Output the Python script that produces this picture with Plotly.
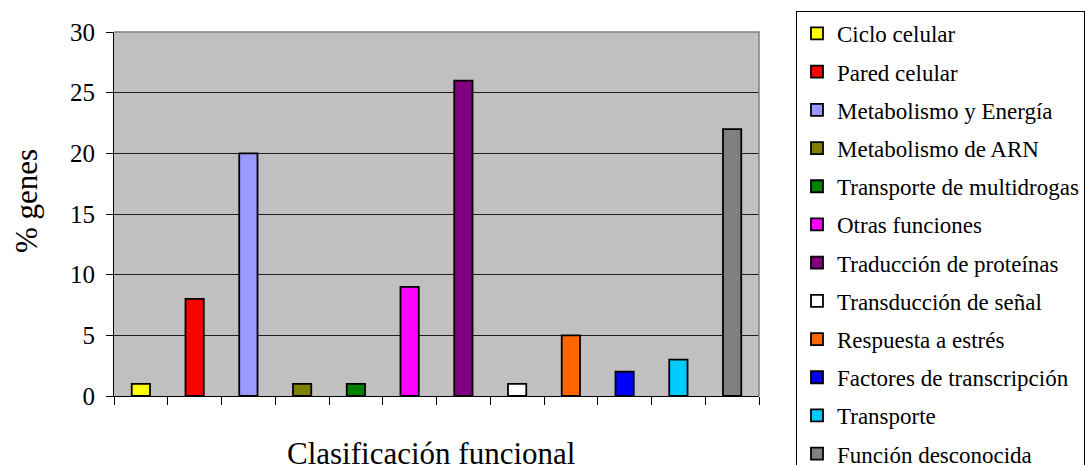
import plotly.graph_objects as go

# Functional classification of genes (% of total)
categorias = [
    "Ciclo celular",
    "Pared celular",
    "Metabolismo y Energía",
    "Metabolismo de ARN",
    "Transporte de multidrogas",
    "Otras funciones",
    "Traducción de proteínas",
    "Transducción de señal",
    "Respuesta a estrés",
    "Factores de transcripción",
    "Transporte",
    "Función desconocida",
]
porcentajes = [1, 8, 20, 1, 1, 9, 26, 1, 5, 2, 3, 22]
colores = [
    "#FFFF00", "#FF0000", "#9999FF", "#808000", "#008000", "#FF00FF",
    "#800080", "#FFFFFF", "#FF6600", "#0000FF", "#00CCFF", "#808080",
]
y_ticks = [0, 5, 10, 15, 20, 25, 30]

FONT = "Liberation Serif"

fig = go.Figure()
for i, (cat, val, col) in enumerate(zip(categorias, porcentajes, colores)):
    fig.add_trace(go.Bar(
        x=[cat], y=[val], name=cat,
        marker=dict(color=col, line=dict(color="black", width=1.8)),
        width=0.34,
        legendgroup=f"g{i}",
    ))

W, H = 1089, 465
L, R, T, B = 114, 330, 32, 69

fig.update_layout(
    width=W, height=H,
    margin=dict(l=L, r=R, t=T, b=B, autoexpand=False),
    paper_bgcolor="white",
    plot_bgcolor="#C0C0C0",
    barmode="overlay",
    font=dict(family=FONT, color="black"),
    showlegend=True,
    legend=dict(
        x=(796 - L) / (W - L - R), xanchor="left",
        y=(H - B - 11) / (H - T - B), yanchor="top",
        bordercolor="black", borderwidth=1,
        bgcolor="white",
        font=dict(family=FONT, size=23, color="black"),
        tracegroupgap=5.3,
        maxheight=700,
    ),
    xaxis=dict(
        categoryorder="array", categoryarray=categorias,
        tickson="boundaries",
        showticklabels=False,
        ticks="outside", ticklen=8, tickcolor="black", tickwidth=1,
        showline=True, linecolor="black", linewidth=1,
        showgrid=False, zeroline=False,
    ),
    yaxis=dict(
        range=[0, 30], tickvals=y_ticks,
        ticks="outside", ticklen=7, tickcolor="black", tickwidth=1,
        ticklabelstandoff=6,
        tickfont=dict(family=FONT, size=25, color="black"),
        showline=True, linecolor="black", linewidth=1,
        showgrid=True, gridcolor="#1e1e1e", gridwidth=1,
        zeroline=False,
    ),
    # grey plot-area border along the top and right edges
    shapes=[dict(
        type="path", xref="paper", yref="paper",
        path="M0,1 L1,1 L1,0",
        line=dict(color="#808080", width=1.5), layer="above",
    )],
    annotations=[
        dict(
            text="% genes", textangle=-90,
            xref="paper", yref="paper", x=0, y=0.5,
            xanchor="center", yanchor="middle",
            xshift=-88, yshift=13, showarrow=False,
            font=dict(family=FONT, size=31, color="black"),
        ),
        dict(
            text="Clasificación funcional",
            xref="paper", yref="paper", x=0.5, y=0,
            xanchor="center", yanchor="middle",
            xshift=-6, yshift=-57, showarrow=False,
            font=dict(family=FONT, size=31, color="black"),
        ),
    ],
)

fig.write_html("out.html")
